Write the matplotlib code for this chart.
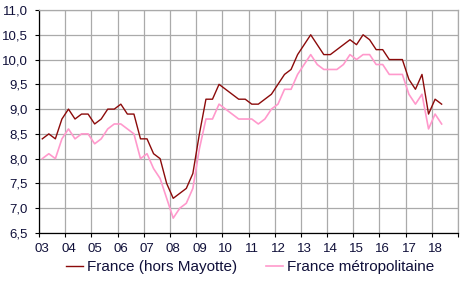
import matplotlib
matplotlib.use("Agg")
import matplotlib.pyplot as plt
from matplotlib.ticker import FixedLocator, FuncFormatter

plt.rcParams['font.family'] = ['Liberation Sans', 'DejaVu Sans']

# quarterly values, 2003 Q1 .. 2018 Q2
years = ['03', '04', '05', '06', '07', '08', '09', '10', '11', '12',
         '13', '14', '15', '16', '17', '18']
france = [8.4, 8.5, 8.4, 8.8, 9.0, 8.8, 8.9, 8.9, 8.7, 8.8, 9.0, 9.0,
          9.1, 8.9, 8.9, 8.4, 8.4, 8.1, 8.0, 7.5, 7.2, 7.3, 7.4, 7.7,
          8.5, 9.2, 9.2, 9.5, 9.4, 9.3, 9.2, 9.2, 9.1, 9.1, 9.2, 9.3,
          9.5, 9.7, 9.8, 10.1, 10.3, 10.5, 10.3, 10.1, 10.1, 10.2, 10.3, 10.4,
          10.3, 10.5, 10.4, 10.2, 10.2, 10.0, 10.0, 10.0, 9.6, 9.4, 9.7, 8.9,
          9.2, 9.1]
metro = [8.0, 8.1, 8.0, 8.4, 8.6, 8.4, 8.5, 8.5, 8.3, 8.4, 8.6, 8.7,
         8.7, 8.6, 8.5, 8.0, 8.1, 7.8, 7.6, 7.2, 6.8, 7.0, 7.1, 7.4,
         8.2, 8.8, 8.8, 9.1, 9.0, 8.9, 8.8, 8.8, 8.8, 8.7, 8.8, 9.0,
         9.1, 9.4, 9.4, 9.7, 9.9, 10.1, 9.9, 9.8, 9.8, 9.8, 9.9, 10.1,
         10.0, 10.1, 10.1, 9.9, 9.9, 9.7, 9.7, 9.7, 9.3, 9.1, 9.3, 8.6,
         8.9, 8.7]

x = list(range(len(france)))
nslots = 4 * len(years)

fig = plt.figure(figsize=(4.71, 2.81), dpi=100)
ax = fig.add_axes([39 / 471, 1 - 233 / 281, 419 / 471, 223 / 281])

ax.plot(x, france, color='#8b0a0a', lw=1.0, label='France (hors Mayotte)')
ax.plot(x, metro, color='#ff99cc', lw=1.2, label='France métropolitaine')

ax.set_xlim(-0.5, nslots - 0.5)
ax.set_ylim(6.5, 11.0)

ax.xaxis.set_major_locator(FixedLocator([i - 0.5 for i in range(0, nslots + 1, 4)]))
ax.xaxis.set_major_formatter(FuncFormatter(lambda v, p: ''))
ax.xaxis.set_minor_locator(FixedLocator([i for i in range(0, nslots, 4)]))
ax.xaxis.set_minor_formatter(FuncFormatter(lambda v, p: years[int(round(v)) // 4]))
ax.yaxis.set_major_locator(FixedLocator([6.5 + 0.5 * i for i in range(10)]))
ax.yaxis.set_major_formatter(FuncFormatter(lambda v, p: ('%.1f' % v).replace('.', ',')))

ax.tick_params(axis='x', which='major', direction='out', length=3, width=0.8)
ax.tick_params(axis='x', which='minor', length=0, pad=7, labelsize=9.5, labelcolor='#10103a')
ax.tick_params(axis='y', direction='out', length=3, width=0.8, pad=5,
               labelsize=9.5, labelcolor='#10103a')

ax.grid(True, which='major', color='#aaaaaa', lw=0.9)
ax.set_axisbelow(True)
for s in ['top', 'right']:
    ax.spines[s].set_color('#aaaaaa')
    ax.spines[s].set_linewidth(0.9)
for s in ['left', 'bottom']:
    ax.spines[s].set_color('black')
    ax.spines[s].set_linewidth(0.9)

fig.legend(loc='center', bbox_to_anchor=(250 / 471, 1 - 267 / 281), ncol=2,
           frameon=False, fontsize=11, handlelength=1.1, handletextpad=0.25,
           columnspacing=1.9, labelcolor='#10103a')

fig.savefig('out.png', dpi=100)
